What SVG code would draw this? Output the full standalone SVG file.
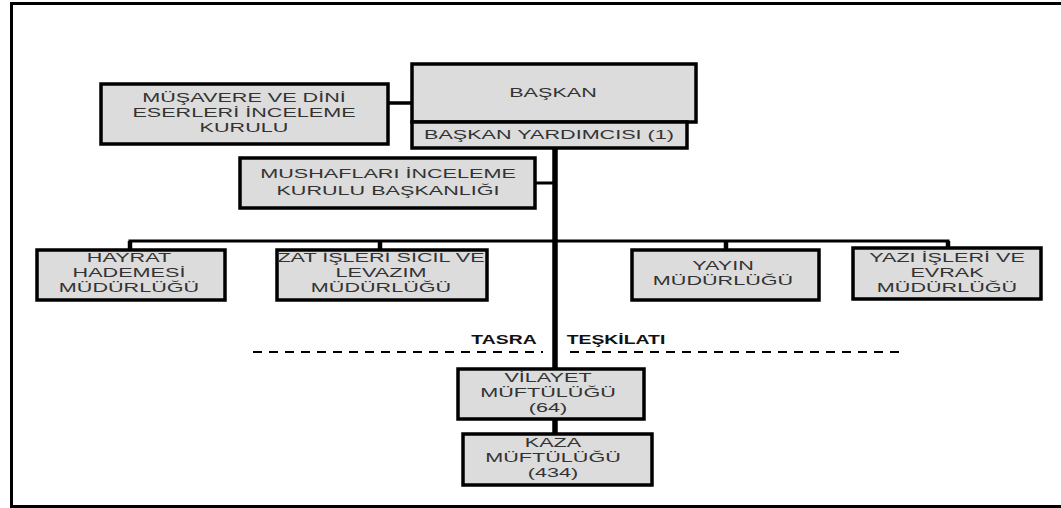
<svg xmlns="http://www.w3.org/2000/svg" width="1061" height="508" viewBox="0 0 1061 508">
<style>
.frame{fill:none;stroke:#000;stroke-width:3}
.box{fill:#dcdcdc;stroke:#000;stroke-width:3.5}
.t{font-family:"Liberation Sans",Arial,sans-serif;font-size:12px;fill:#333;text-anchor:middle}
.b{font-family:"Liberation Sans",Arial,sans-serif;font-size:12.5px;font-weight:bold;fill:#111;text-anchor:middle}
.ln{stroke:#000;fill:none}
.dash{stroke:#000;stroke-width:2;stroke-dasharray:9 7;fill:none}
</style>
<rect class="frame" x="11.5" y="3.5" width="1060" height="503"/>
<g id="connectors">
<line class="ln" x1="388" y1="103" x2="412" y2="103" stroke-width="3.5"/>
<line class="ln" x1="555" y1="148" x2="555" y2="434" stroke-width="5.5"/>
<line class="ln" x1="535" y1="183" x2="555" y2="183" stroke-width="3"/>
<polyline class="ln" points="130,250 130,241 948,241 948,248" stroke-width="3"/>
<line class="ln" x1="130" y1="241" x2="130" y2="250" stroke-width="4.5"/>
<line class="ln" x1="380" y1="241" x2="380" y2="250" stroke-width="4.5"/>
<line class="ln" x1="726" y1="241" x2="726" y2="250" stroke-width="4.5"/>
<line class="ln" x1="948" y1="241" x2="948" y2="248" stroke-width="4.5"/>
<line class="dash" x1="253" y1="352" x2="543" y2="352"/>
<line class="dash" x1="570" y1="352" x2="899" y2="352"/>
</g>
<g id="baskan">
<rect class="box" x="412" y="64" width="284" height="58"/>
<text class="t" transform="translate(553,97) scale(1.8,1)">BAŞKAN</text>
</g>
<g id="baskan-yardimcisi">
<rect class="box" x="412" y="122" width="275" height="26"/>
<text class="t" transform="translate(549,139) scale(1.8,1)">BAŞKAN YARDIMCISI (1)</text>
</g>
<g id="musavere">
<rect class="box" x="101" y="84" width="287" height="60"/>
<text class="t" transform="translate(244,102) scale(1.8,1)"><tspan x="0" y="0">MÜŞAVERE VE DİNİ</tspan><tspan x="0" y="15">ESERLERİ İNCELEME</tspan><tspan x="0" y="30">KURULU</tspan></text>
</g>
<g id="mushaflari">
<rect class="box" x="240" y="158" width="295" height="50"/>
<text class="t" transform="translate(388,178) scale(1.8,1)"><tspan x="0" y="0">MUSHAFLARI İNCELEME</tspan><tspan x="0" y="17">KURULU BAŞKANLIĞI</tspan></text>
</g>
<g id="hayrat">
<rect class="box" x="37" y="250" width="188" height="50"/>
<text class="t" transform="translate(129,262) scale(1.8,1)"><tspan x="0" y="0">HAYRAT</tspan><tspan x="0" y="15">HADEMESİ</tspan><tspan x="0" y="30">MÜDÜRLÜĞÜ</tspan></text>
</g>
<g id="zat-isleri">
<rect class="box" x="277" y="250" width="210" height="50"/>
<text class="t" transform="translate(381,262) scale(1.8,1)"><tspan x="0" y="0">ZAT İŞLERİ SİCİL VE</tspan><tspan x="0" y="15">LEVAZIM</tspan><tspan x="0" y="30">MÜDÜRLÜĞÜ</tspan></text>
</g>
<g id="yayin">
<rect class="box" x="632" y="250" width="187" height="50"/>
<text class="t" transform="translate(723,270) scale(1.8,1)"><tspan x="0" y="0">YAYIN</tspan><tspan x="0" y="15">MÜDÜRLÜĞÜ</tspan></text>
</g>
<g id="yazi-isleri">
<rect class="box" x="853" y="248" width="188" height="51"/>
<text class="t" transform="translate(947,262) scale(1.8,1)"><tspan x="0" y="0">YAZI İŞLERİ VE</tspan><tspan x="0" y="15">EVRAK</tspan><tspan x="0" y="30">MÜDÜRLÜĞÜ</tspan></text>
</g>
<g id="tasra-label">
<text class="b" transform="translate(504,344) scale(1.55,1)">TASRA</text>
<text class="b" transform="translate(616,344) scale(1.55,1)">TEŞKİLATI</text>
</g>
<g id="vilayet">
<rect class="box" x="458" y="369" width="186" height="50"/>
<text class="t" transform="translate(548,382) scale(1.8,1)"><tspan x="0" y="0">VİLAYET</tspan><tspan x="0" y="15">MÜFTÜLÜĞÜ</tspan><tspan x="0" y="30">(64)</tspan></text>
</g>
<g id="kaza">
<rect class="box" x="463" y="434" width="189" height="51"/>
<text class="t" transform="translate(553,447) scale(1.8,1)"><tspan x="0" y="0">KAZA</tspan><tspan x="0" y="15">MÜFTÜLÜĞÜ</tspan><tspan x="0" y="30">(434)</tspan></text>
</g>
</svg>
